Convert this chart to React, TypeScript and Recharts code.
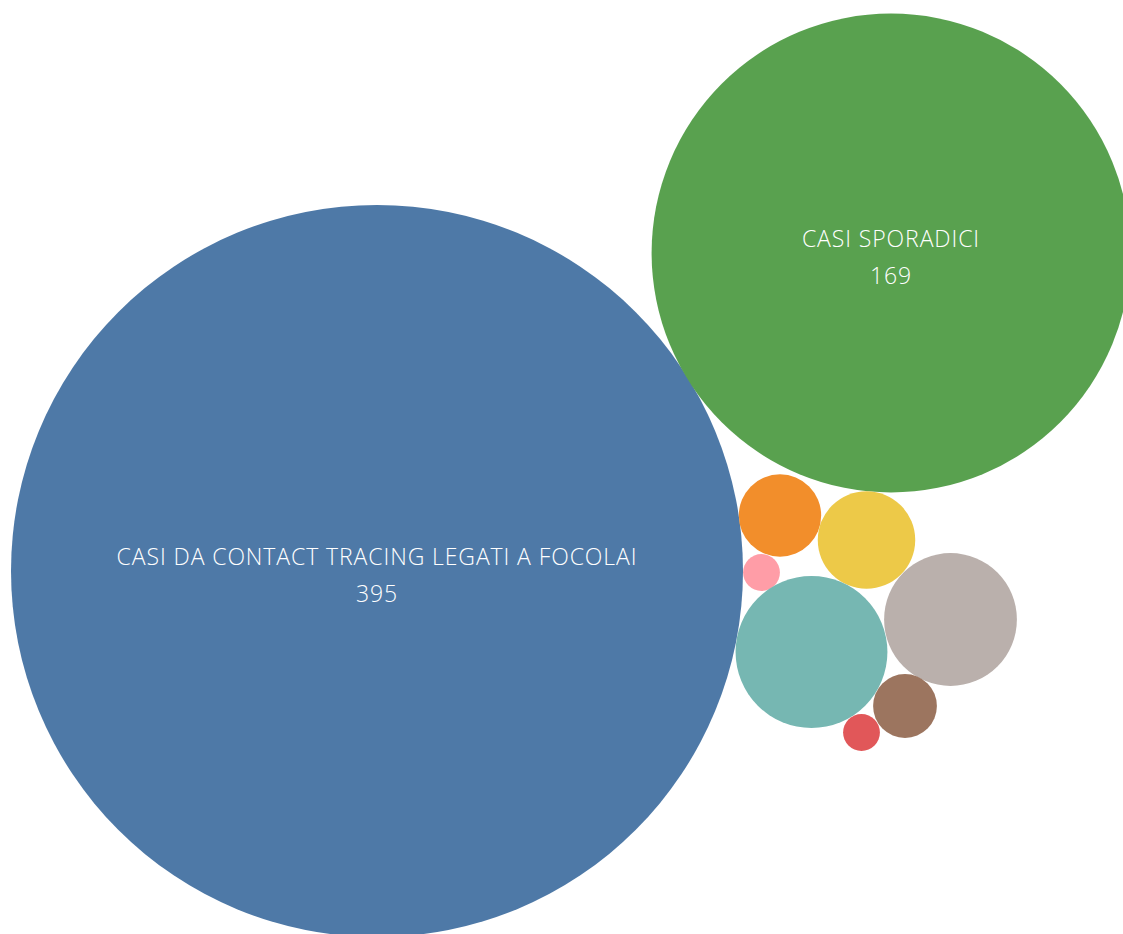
import { Cell, Scatter, ScatterChart, Tooltip, XAxis, YAxis, ZAxis } from "recharts";

// case counts by origin of infection
const CATEGORIES = [
  "CASI DA CONTACT TRACING LEGATI A FOCOLAI",
  "CASI SPORADICI",
  "CASI IMPORTATI DA ALTRA REGIONE",
  "CASI IMPORTATI DALL'ESTERO",
  "CASI IN RSA",
  "CASI DA SCREENING",
  "CASI IN AMBITO LAVORATIVO",
  "CASI IN AMBITO SCOLASTICO",
  "CASI IN AMBITO SANITARIO",
];
const VALUES = [395, 169, 5, 7, 1, 17, 13, 3, 1];
// which bubbles carry a label
const LABELLED = [true, true, false, false, false, false, false, false, false];

// packed-bubble layout (centre of each bubble in the 1123x934 layout space)
const PACK_X = [377, 891, 780, 866.5, 761.5, 811.5, 950.5, 905, 861.5];
const PACK_Y = [571, 253, 515.5, 540, 572.5, 652, 619.5, 706, 732.5];

const COLORS = [
  "#4e79a7", "#59a14f", "#f28e2b", "#edc948", "#ff9da7",
  "#76b7b2", "#bab0ac", "#9c755f", "#e15759",
];

const W = 1123;
const H = 934;
const MAX_R = 366; // radius of the largest bubble

const data = CATEGORIES.map((name, i) => ({
  name,
  value: VALUES[i],
  x: PACK_X[i],
  y: PACK_Y[i],
  labelled: LABELLED[i],
}));

const Bubble = (props: any) => {
  const { cx, cy, width, fill, payload } = props;
  const r = width / 2;
  return (
    <g>
      <circle cx={cx} cy={cy} r={r} fill={fill} />
      {payload.labelled && (
        <text
          x={cx}
          textAnchor="middle"
          fill="#ffffff"
          style={{ fontFamily: "'Open Sans', sans-serif", fontWeight: 300, fontSize: 23, letterSpacing: 0.9 }}
        >
          <tspan x={cx} y={cy - 6}>{payload.name}</tspan>
          <tspan x={cx} y={cy + 31}>{payload.value}</tspan>
        </text>
      )}
    </g>
  );
};

export default function App() {
  return (
    <div style={{ position: "absolute", left: 0, top: 0, width: W, height: H, background: "#fff" }}>
      <ScatterChart width={W} height={H} margin={{ top: 0, right: 0, bottom: 0, left: 0 }}>
        <XAxis type="number" dataKey="x" domain={[0, W]} hide />
        <YAxis type="number" dataKey="y" domain={[0, H]} reversed hide />
        <ZAxis type="number" dataKey="value" domain={[0, VALUES[0]]} range={[0, Math.PI * MAX_R * MAX_R]} />
        <Tooltip cursor={false} />
        <Scatter data={data} shape={<Bubble />} isAnimationActive={false}>
          {data.map((d, i) => (
            <Cell key={d.name} fill={COLORS[i]} />
          ))}
        </Scatter>
      </ScatterChart>
    </div>
  );
}
